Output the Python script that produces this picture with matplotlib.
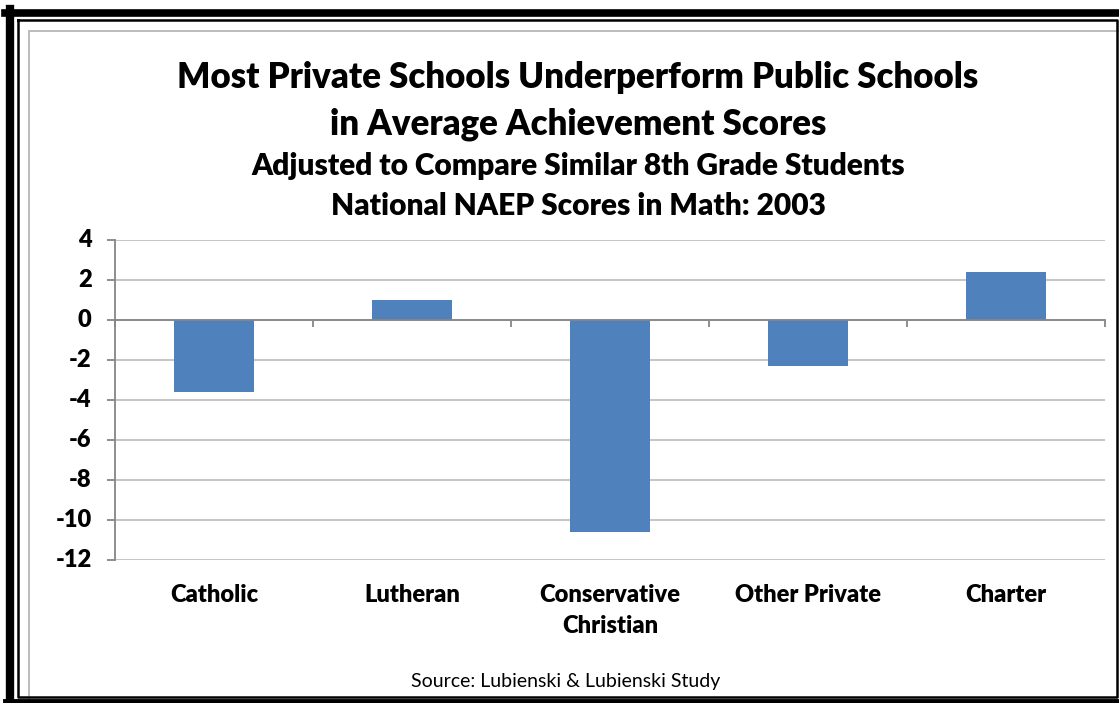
import matplotlib
matplotlib.use("Agg")
import matplotlib.pyplot as plt
from matplotlib.lines import Line2D
from matplotlib.patches import Rectangle
import matplotlib.transforms as mtransforms

categories = ["Catholic", "Lutheran", "Conservative\nChristian", "Other Private", "Charter"]
values = [-3.6, 1.0, -10.6, -2.3, 2.4]
yticks = [-12, -10, -8, -6, -4, -2, 0, 2, 4]
title1 = "Most Private Schools Underperform Public Schools\nin Average Achievement Scores"
title2 = "Adjusted to Compare Similar 8th Grade Students\nNational NAEP Scores in Math: 2003"
source = "Source: Lubienski & Lubienski Study"

W, H = 1119, 703
plt.rcParams['font.family'] = ['Lato', 'DejaVu Sans']
fig = plt.figure(figsize=(W/100, H/100), dpi=100)

def fx(x): return x / W
def fy(y): return 1 - y / H

# Borders
fig.patches.append(Rectangle((fx(29), fy(703)), fx(1200) - fx(29), fy(31) - fy(703),
                             transform=fig.transFigure, fill=False, edgecolor="#B0B0B0", lw=1.2))
fig.lines.append(Line2D([fx(5), fx(1119)], [fy(12.5), fy(12.5)], transform=fig.transFigure, color="black", lw=5.5))
fig.lines.append(Line2D([fx(10), fx(10)], [fy(9), fy(703)], transform=fig.transFigure, color="black", lw=6))
fig.lines.append(Line2D([fx(5), fx(1119)], [fy(700.5), fy(700.5)], transform=fig.transFigure, color="black", lw=3.5))
fig.lines.append(Line2D([fx(17.5), fx(1116.5), fx(1116.5), fx(17.5), fx(17.5)],
                        [fy(19.5), fy(19.5), fy(696.5), fy(696.5), fy(19.5)],
                        transform=fig.transFigure, color="black", lw=1.8))

ax = fig.add_axes([fx(115), fy(560), fx(1105) - fx(115), fy(240) - fy(560)])
x = list(range(len(categories)))
ax.bar(x, values, width=0.4, color="#4F81BD", zorder=3)
ax.set_xlim(-0.5, len(categories) - 0.5)
ax.set_ylim(-12, 4)
ax.grid(axis="y", color="#C0C0C0", lw=1.3, zorder=0)
ax.set_axisbelow(True)
for s in ["top", "right"]:
    ax.spines[s].set_visible(False)
ax.spines["left"].set_color("#868686")
ax.spines["left"].set_linewidth(1.3)
ax.spines["bottom"].set_position(("data", 0))
ax.spines["bottom"].set_color("#868686")
ax.spines["bottom"].set_linewidth(1.3)
ax.spines["bottom"].set_zorder(4)
ax.tick_params(axis="y", length=6, color="#868686", width=1.3, labelleft=False)
ax.tick_params(axis="x", length=5, color="#868686", width=1.3, direction="out", labelbottom=False)
ax.set_xticks([i - 0.5 for i in range(len(categories) + 1)])
ax.set_yticks(yticks)

ytrans = mtransforms.blended_transform_factory(ax.transAxes, ax.transData)
for v in yticks:
    ax.text(-0.0235, v, str(v), transform=ytrans, ha="right", va="center", fontsize=17,
            fontweight="heavy")

trans = mtransforms.blended_transform_factory(ax.transData, ax.transAxes)
for i, c in enumerate(categories):
    ax.text(i, -0.075, c, transform=trans, ha="center", va="top", fontsize=17,
            fontweight="heavy", linespacing=1.5)

fig.text(fx(578), fy(101), title1, ha="center", va="center", fontsize=25, fontweight="heavy",
         linespacing=1.5)
fig.text(fx(578), fy(186), title2, ha="center", va="center", fontsize=21.5, fontweight="heavy",
         linespacing=1.5)
fig.text(fx(566), fy(681), source, ha="center", va="center", fontsize=14)

fig.savefig("out.png", dpi=100)
